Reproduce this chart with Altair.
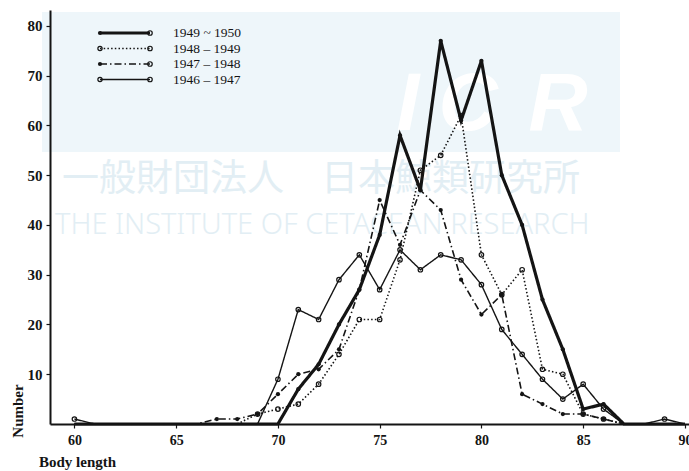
import altair as alt
import pandas as pd

# Body length (feet) on the x axis
body_length = list(range(60, 91))

season_labels = ["1949 ~ 1950", "1948 – 1949", "1947 – 1948", "1946 – 1947"]

# Number of whales at each body length, one list per season (60 ... 90 ft)
n_1949_50 = [0] * 10 + [0, 7, 12, 20, 27, 38, 58, 47, 77, 61, 73, 50, 40, 25, 15, 3, 4, 0, 0, 0, 0]
n_1948_49 = [0] * 9 + [2, 3, 4, 8, 14, 21, 21, 33, 51, 54, 62, 34, 26, 31, 11, 10, 2, 1, 0, 0, 0, 0]
n_1947_48 = [0] * 7 + [1, 1, 2, 6, 10, 11, 15, 27, 45, 36, 47, 43, 29, 22, 26, 6, 4, 2, 2, 1, 0, 0, 0, 0]
n_1946_47 = [1] + [0] * 9 + [9, 23, 21, 29, 34, 27, 35, 31, 34, 33, 28, 19, 14, 9, 5, 8, 3, 0, 0, 1, 0]

x_ticks = [60, 65, 70, 75, 80, 85, 90]
y_ticks = [10, 20, 30, 40, 50, 60, 70, 80]

counts = [n_1949_50, n_1948_49, n_1947_48, n_1946_47]
rows = []
for season, values in zip(season_labels, counts):
    for length, n in zip(body_length, values):
        rows.append({"season": season, "length": length, "count": n})
df = pd.DataFrame(rows)

# one-row table for the decorations (key, titles, watermark)
one = pd.DataFrame({"k": [0]})

# line style per season: dash pattern, stroke width, filled dots
dashes = [[1, 0], [1.5, 2.2], [7, 3, 1.5, 3], [1, 0]]
widths = [3.2, 1.6, 1.6, 1.4]
filled = [True, False, True, False]

INK = "#141414"
SERIF = "Liberation Serif"

x_enc = alt.X(
    "length:Q",
    scale=alt.Scale(domain=[58.8, 90.2], nice=False, zero=False),
    axis=alt.Axis(values=x_ticks, title=None, labelPadding=5, labelFontSize=14, zindex=1),
)
y_enc = alt.Y(
    "count:Q",
    scale=alt.Scale(domain=[0, 83.2], nice=False),
    axis=alt.Axis(values=y_ticks, title=None, labelPadding=4, labelFontSize=15, zindex=1),
)

layers = []

# faint institute watermark behind the plot
layers.append(
    alt.Chart(one).mark_rect(color="#eef6fa").encode(
        x=alt.value(-8), x2=alt.value(570), y=alt.value(2), y2=alt.value(142)
    )
)
for ch, cx in [("I", 358), ("C", 418), ("R", 508)]:
    layers.append(
        alt.Chart(one).mark_text(
            font="Liberation Sans", fontSize=82, fontWeight="bold", fontStyle="italic",
            color="white", align="center", baseline="alphabetic",
        ).encode(x=alt.value(cx), y=alt.value(120), text=alt.value(ch))
    )
layers.append(
    alt.Chart(one).mark_text(
        font="Noto Sans CJK JP", fontSize=37, color="#e2eef4", align="left", baseline="middle",
    ).encode(x=alt.value(12), y=alt.value(170), text=alt.value("一般財団法人　日本鯨類研究所"))
)
layers.append(
    alt.Chart(one).mark_text(
        font="Noto Sans", fontSize=29, fontWeight=300, color="#e2eef4", align="left", baseline="middle",
    ).encode(x=alt.value(5), y=alt.value(215), text=alt.value("THE INSTITUTE OF CETACEAN RESEARCH"))
)

# frequency polygons
for i, season in enumerate(season_labels):
    base = alt.Chart(df).transform_filter(alt.datum.season == season)
    layers.append(
        base.mark_line(color=INK, strokeWidth=widths[i], strokeDash=dashes[i]).encode(
            x=x_enc, y=y_enc
        )
    )
    layers.append(
        base.transform_filter(alt.datum["count"] > 0)
        .mark_point(
            shape="circle", size=18 if filled[i] else 20, filled=filled[i],
            color=INK, strokeWidth=1.2, opacity=1,
        )
        .encode(x=x_enc, y=y_enc)
    )

# key in the upper left corner
key_y = [23, 38.5, 54, 69.5]
for i, season in enumerate(season_labels):
    layers.append(
        alt.Chart(one).mark_rule(color=INK, strokeWidth=widths[i], strokeDash=dashes[i]).encode(
            x=alt.value(50), x2=alt.value(100), y=alt.value(key_y[i])
        )
    )
    layers.append(
        alt.Chart(one).mark_point(
            shape="circle", size=18, filled=filled[i], color=INK, strokeWidth=1.2, opacity=1
        ).encode(x=alt.value(50), y=alt.value(key_y[i]))
    )
    layers.append(
        alt.Chart(one).mark_point(
            shape="circle", size=20, filled=False, color=INK, strokeWidth=1.2, opacity=1
        ).encode(x=alt.value(100), y=alt.value(key_y[i]))
    )
    layers.append(
        alt.Chart(one).mark_text(
            font=SERIF, fontSize=13.5, color=INK, align="left", baseline="middle"
        ).encode(x=alt.value(123), y=alt.value(key_y[i]), text=alt.value(season))
    )

# axis titles
layers.append(
    alt.Chart(one).mark_text(
        font=SERIF, fontSize=15, fontWeight="bold", color=INK, align="left", baseline="middle"
    ).encode(x=alt.value(-11), y=alt.value(452), text=alt.value("Body length"))
)
layers.append(
    alt.Chart(one).mark_text(
        font=SERIF, fontSize=15, fontWeight="bold", color=INK, align="center",
        baseline="middle", angle=270,
    ).encode(x=alt.value(-32), y=alt.value(401), text=alt.value("Number"))
)

chart = (
    alt.layer(*layers)
    .properties(
        width=639,
        height=414,
        padding={"left": 50, "top": 10, "right": 0, "bottom": 47},
        autosize=alt.AutoSizeParams(type="none"),
        background="white",
    )
    .configure_view(stroke=None)
    .configure_axis(
        grid=False,
        domainColor=INK,
        domainWidth=2,
        tickColor=INK,
        tickSize=4,
        tickWidth=1.2,
        labelFont=SERIF,
        labelFontWeight="bold",
        labelColor=INK,
    )
)

chart.save("out.html", embed_options={"renderer": "svg", "actions": False})
